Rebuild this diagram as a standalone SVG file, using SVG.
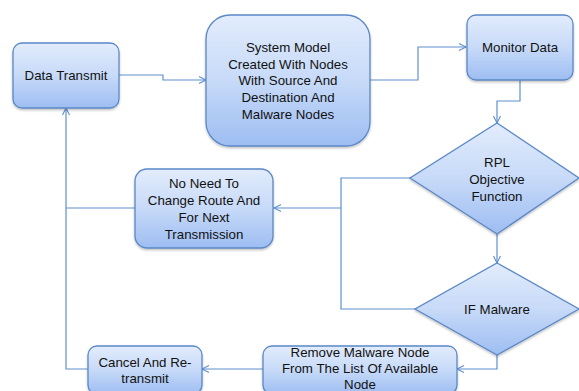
<svg xmlns="http://www.w3.org/2000/svg" width="579" height="391" viewBox="0 0 579 391">
<style>
.n{stroke:#5b88c6;stroke-width:1.3;fill:url(#g);filter:url(#sh)}
.t{font-family:"Liberation Sans",Arial,sans-serif;font-size:13.3px;fill:#111;text-anchor:middle}
.c{fill:none;stroke:#5f8fcf;stroke-width:1.2}
</style>
<defs>
<linearGradient id="g" x1="0" y1="0" x2="0" y2="1">
<stop offset="0" stop-color="#e2ecfc"/>
<stop offset="0.5" stop-color="#c7daf8"/>
<stop offset="1" stop-color="#9dbdf2"/>
</linearGradient>
<filter id="sh" x="-10%" y="-10%" width="120%" height="130%">
<feDropShadow dx="0" dy="1.5" stdDeviation="1.2" flood-color="#000" flood-opacity="0.25"/>
</filter>
<marker id="a" markerWidth="10" markerHeight="10" refX="8" refY="4" orient="auto" markerUnits="userSpaceOnUse">
<path d="M1,0.5 L8,4 L1,7.5" fill="none" stroke="#5f8fcf" stroke-width="1.1"/>
</marker>
</defs>
<rect width="579" height="391" fill="#fff"/>
<g id="connectors">
<path class="c" d="M119,75 H163 V80 H206" marker-end="url(#a)"/>
<path class="c" d="M370,80 H418 V47 H466" marker-end="url(#a)"/>
<path class="c" d="M520,80 V101 H497 V123" marker-end="url(#a)"/>
<path class="c" d="M497,234 V263" marker-end="url(#a)"/>
<path class="c" d="M410,178 H341 V309 H415"/>
<path class="c" d="M341,208 H274" marker-end="url(#a)"/>
<path class="c" d="M135,208 H66"/>
<path class="c" d="M89,369 H66 V108" marker-end="url(#a)"/>
<path class="c" d="M497,355 V369 H457" marker-end="url(#a)"/>
<path class="c" d="M263,369 H202" marker-end="url(#a)"/>
</g>
<g id="data-transmit">
<rect class="n" x="13" y="43" width="106" height="65" rx="9"/>
<text class="t" x="66" y="80">Data Transmit</text>
</g>
<g id="system-model">
<rect class="n" x="206" y="15" width="164" height="131" rx="24"/>
<text class="t" x="288" y="52">System Model</text>
<text class="t" x="288" y="69">Created With Nodes</text>
<text class="t" x="288" y="85">With Source And</text>
<text class="t" x="288" y="102">Destination And</text>
<text class="t" x="288" y="119">Malware Nodes</text>
</g>
<g id="monitor-data">
<rect class="n" x="467" y="15" width="106" height="65" rx="9"/>
<text class="t" x="520" y="52">Monitor Data</text>
</g>
<g id="rpl">
<polygon class="n" points="497,123 579,178 497,234 410,178"/>
<text class="t" x="497" y="167">RPL</text>
<text class="t" x="497" y="184">Objective</text>
<text class="t" x="497" y="201">Function</text>
</g>
<g id="if-malware">
<polygon class="n" points="497,263 579,309 497,355 415,309"/>
<text class="t" x="497" y="314">IF Malware</text>
</g>
<g id="no-need">
<rect class="n" x="135" y="169" width="138" height="79" rx="12"/>
<text class="t" x="204" y="188">No Need To</text>
<text class="t" x="204" y="205">Change Route And</text>
<text class="t" x="204" y="222">For Next</text>
<text class="t" x="204" y="239">Transmission</text>
</g>
<g id="remove">
<rect class="n" x="263" y="346" width="194" height="48" rx="9"/>
<text class="t" x="360" y="357">Remove Malware Node</text>
<text class="t" x="360" y="373">From The List Of Available</text>
<text class="t" x="360" y="389">Node</text>
</g>
<g id="cancel">
<rect class="n" x="88" y="346" width="114" height="48" rx="9"/>
<text class="t" x="145" y="367">Cancel And Re-</text>
<text class="t" x="145" y="383">transmit</text>
</g>
</svg>
